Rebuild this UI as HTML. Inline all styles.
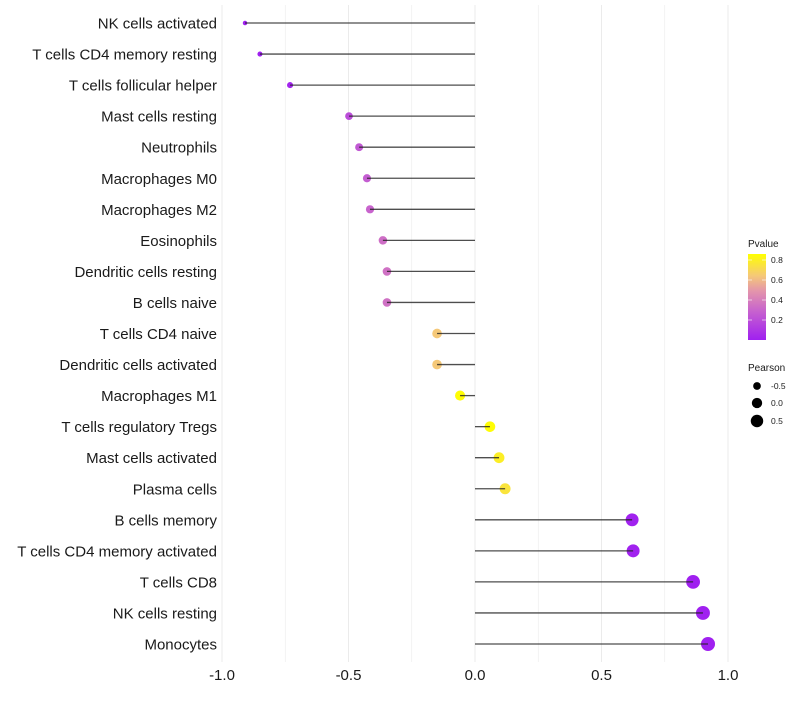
<!DOCTYPE html>
<html><head><meta charset="utf-8"><style>
body{margin:0;background:#fff;font-family:"Liberation Sans",sans-serif}
</style></head><body>
<svg id="chart" width="800" height="700" xmlns="http://www.w3.org/2000/svg"></svg>
<script>
const categories=["NK cells activated","T cells CD4 memory resting","T cells follicular helper","Mast cells resting","Neutrophils","Macrophages M0","Macrophages M2","Eosinophils","Dendritic cells resting","B cells naive","T cells CD4 naive","Dendritic cells activated","Macrophages M1","T cells regulatory  Tregs ","Mast cells activated","Plasma cells","B cells memory","T cells CD4 memory activated","T cells CD8","NK cells resting","Monocytes"];
const pearson=[-0.909,-0.850,-0.731,-0.498,-0.458,-0.427,-0.415,-0.364,-0.348,-0.348,-0.150,-0.150,-0.059,0.059,0.095,0.119,0.621,0.625,0.862,0.901,0.921];
const pvalue=[0.0,0.0,0.02,0.2,0.25,0.27,0.3,0.34,0.35,0.35,0.65,0.65,0.86,0.86,0.8,0.76,0.01,0.01,0.0,0.0,0.0];
const xTicks=[-1,-0.5,0,0.5,1];
const xTickLabels=["-1.0","-0.5","0.0","0.5","1.0"];
const pTicks=[0.2,0.4,0.6,0.8];

const NS="http://www.w3.org/2000/svg";
const svg=document.getElementById('chart');
const X=v=>475+v*253;
const Y=i=>23+i*31.05;
const pY=p=>340-p*100;
const stops=[[0,[160,32,240]],[0.3,[200,100,205]],[0.5,[228,150,170]],[0.65,[245,200,120]],[0.87,[255,255,0]]];
function col(p){p=Math.max(0,Math.min(0.87,p));for(let k=1;k<stops.length;k++){if(p<=stops[k][0]){const a=stops[k-1],b=stops[k];const t=(p-a[0])/(b[0]-a[0]);return 'rgb('+a[1].map((c,j)=>Math.round(c+(b[1][j]-c)*t)).join(',')+')';}}return 'rgb(255,255,0)';}
const R=v=>Math.sqrt(4+45*(v+0.95)/1.87);
function el(t,a,p){const e=document.createElementNS(NS,t);for(const k in a)e.setAttribute(k,a[k]);(p||svg).appendChild(e);return e;}

for(let g=-1;g<=1.001;g+=0.25){
 const l=el('line',{x1:X(g),x2:X(g),y1:5,y2:662,stroke:'#ebebeb','stroke-width':Math.abs(g*2%1)<0.01?1:0.6});
 
 
}
categories.forEach((c,i)=>{
 const t=el('text',{x:217,y:Y(i)+5.5,'text-anchor':'end','font-size':15,fill:'#1a1a1a'});t.textContent=c;
 
 
 const pt=el('circle',{cx:X(pearson[i]),cy:Y(i),r:R(pearson[i]),fill:col(pvalue[i])});
 
 
 const s=el('line',{x1:X(0),x2:X(pearson[i]),y1:Y(i),y2:Y(i),stroke:'#222','stroke-opacity':0.8,'stroke-width':1.3});
 
 
});
xTicks.forEach((v,i)=>{
 const t=el('text',{x:X(v),y:680,'text-anchor':'middle','font-size':15,fill:'#1a1a1a'});t.textContent=xTickLabels[i];
 
 
});
const lt=el('text',{x:748,y:247,'font-size':10,fill:'#1a1a1a'});lt.textContent='Pvalue';


const defs=el('defs',{});const lg=el('linearGradient',{id:'pg',x1:0,y1:1,x2:0,y2:0},defs);
stops.forEach(s=>el('stop',{offset:s[0]/0.87,'stop-color':'rgb('+s[1].join(',')+')'},lg));
const cb=el('rect',{x:748,y:254,width:18,height:86,fill:'url(#pg)'});


pTicks.forEach(p=>{
 const t=el('text',{x:771,y:pY(p)+3,'font-size':8.5,fill:'#1a1a1a'});t.textContent=p.toFixed(1);
 
 
 el('line',{x1:748,x2:752,y1:pY(p),y2:pY(p),stroke:'#fff','stroke-opacity':0.6});
 el('line',{x1:762,x2:766,y1:pY(p),y2:pY(p),stroke:'#fff','stroke-opacity':0.6});
});
const st=el('text',{x:748,y:371,'font-size':10,fill:'#1a1a1a'});st.textContent='Pearson';


[[-0.5,"-0.5",386],[0,"0.0",403],[0.5,"0.5",421]].forEach(d=>{
 const c=el('circle',{cx:757,cy:d[2],r:R(d[0]),fill:'#000'});
 
 
 const t=el('text',{x:771,y:d[2]+3,'font-size':8.5,fill:'#1a1a1a'});t.textContent=d[1];
 
 
});
</script>
</body></html>
